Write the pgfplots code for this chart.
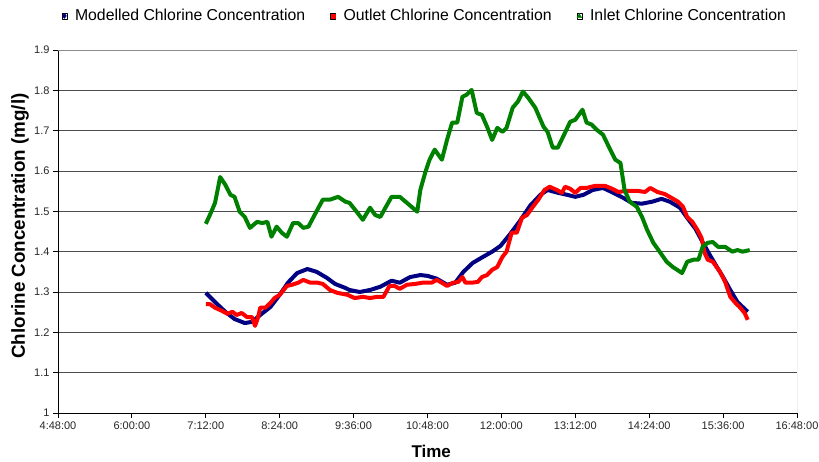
\documentclass[border=0pt]{standalone}
\usepackage{pgfplots}
\pgfplotsset{compat=1.18}
\usepackage{fontspec}
\setmainfont{Liberation Sans}
\definecolor{navyc}{RGB}{0,0,128}
\definecolor{redc}{RGB}{255,0,0}
\definecolor{greenc}{RGB}{0,128,0}
\begin{document}
\begin{tikzpicture}
\path[use as bounding box] (-58bp,-49bp) rectangle (761bp,413bp);
\begin{axis}[
  at={(0,0)}, anchor=south west,
  scale only axis, width=739bp, height=363bp,
  xmin=288, xmax=1008, ymin=1, ymax=1.9,
  xtick={288,360,432,504,576,648,720,792,864,936,1008},
  xticklabels={4:48:00,6:00:00,7:12:00,8:24:00,9:36:00,10:48:00,12:00:00,13:12:00,14:24:00,15:36:00,16:48:00},
  ytick={1,1.1,1.2,1.3,1.4,1.5,1.6,1.7,1.8,1.9},
  /pgf/number format/assume math mode=true,
  ticklabel style={font=\fontsize{11bp}{13bp}\selectfont, text=black!85},
  axis x line*=bottom, axis y line*=left,
  axis line style={black, line width=0.9bp},
  tick align=outside, major tick length=5bp,
  tick style={black, line width=0.8bp},
  ymajorgrids, grid style={black!70, line width=0.8bp},
  xlabel={Time}, ylabel={Chlorine Concentration (mg/l)},
  xlabel style={font=\fontsize{17bp}{20bp}\selectfont\bfseries, at={(axis description cs:0.505,-0.107)}, anchor=center},
  ylabel style={font=\fontsize{18.8bp}{21bp}\selectfont\bfseries, at={(axis description cs:-0.0514,0.515)}, anchor=center},
  legend style={draw=none, fill=none, legend columns=3,
    at={(0.495,1.094)}, anchor=center,
    font=\fontsize{15.8bp}{18bp}\selectfont,
    nodes={inner sep=0bp},
    /tikz/every odd column/.append style={column sep=8bp},
    /tikz/every even column/.append style={column sep=25bp}},
  legend cell align=left,
  line join=round,
]
\draw[black!45, line width=0.8bp] (rel axis cs:0,1) -- (rel axis cs:1,1) -- (rel axis cs:1,0);
\addlegendimage{legend image code/.code={\path (0bp,-3bp) rectangle (5bp,3bp); \fill[navyc] (2.5bp,2.6bp) -- (4.6bp,0bp) -- (2.5bp,-2.6bp) -- (0.4bp,0bp) -- cycle;}}
\addlegendentry{Modelled Chlorine Concentration}
\addlegendimage{legend image code/.code={\path (0bp,-3bp) rectangle (5bp,3bp); \fill[redc] (0.6bp,-1.9bp) rectangle (4.4bp,1.9bp);}}
\addlegendentry{Outlet Chlorine Concentration}
\addlegendimage{legend image code/.code={\path (0bp,-3bp) rectangle (5bp,3bp); \fill[greenc] (2.5bp,2.4bp) -- (4.8bp,-1.8bp) -- (0.2bp,-1.8bp) -- cycle;}}
\addlegendentry{Inlet Chlorine Concentration}
% Modelled
\addplot[navyc, line width=4bp, no marks, forget plot] coordinates {
(432,1.298)(441,1.275)(451,1.251)(460,1.233)(470,1.223)(477,1.226)(485,1.243)
(495,1.263)(504,1.293)(512,1.323)(521,1.347)(531,1.357)(540,1.350)(550,1.335)
(558,1.320)(568,1.310)(572,1.305)(582,1.300)(592,1.305)(602,1.313)(613,1.328)
(621,1.323)(631,1.337)(641,1.342)(648,1.340)(657,1.333)(667,1.318)(675,1.323)
(683,1.350)(692,1.372)(702,1.387)(711,1.400)(719,1.414)(728,1.442)(738,1.476)
(748,1.514)(758,1.541)(765,1.553)(775,1.546)(784,1.541)(792,1.536)(800,1.541)
(809,1.553)(819,1.558)(829,1.546)(839,1.533)(847,1.521)(857,1.519)(867,1.524)
(876,1.531)(884,1.524)(894,1.509)(901,1.484)(909,1.457)(916,1.424)(923,1.392)
(930,1.362)(936,1.337)(943,1.305)(950,1.275)(960,1.251)
};
% Outlet
\addplot[redc, line width=4bp, no marks, forget plot] coordinates {
(432,1.270)(436,1.270)(441,1.261)(448,1.253)(453,1.246)(458,1.251)(462,1.243)
(467,1.248)(472,1.238)(477,1.238)(480,1.216)(483,1.238)(485,1.261)(490,1.261)
(495,1.273)(499,1.285)(504,1.293)(511,1.315)(516,1.318)(522,1.323)(527,1.330)
(534,1.323)(541,1.323)(546,1.320)(553,1.305)(560,1.298)(570,1.293)(577,1.285)
(585,1.288)(592,1.285)(599,1.288)(605,1.288)(611,1.315)(616,1.315)(621,1.308)
(628,1.318)(636,1.320)(643,1.323)(652,1.323)(657,1.330)(662,1.323)(667,1.315)
(673,1.323)(678,1.325)(682,1.337)(685,1.323)(691,1.323)(697,1.325)(701,1.337)
(706,1.342)(711,1.355)(716,1.362)(721,1.387)(725,1.400)(730,1.447)(735,1.447)
(740,1.484)(745,1.491)(750,1.509)(756,1.529)(762,1.553)(767,1.561)(774,1.553)
(779,1.546)(782,1.561)(787,1.556)(792,1.546)(797,1.558)(803,1.558)(811,1.563)
(821,1.563)(828,1.556)(834,1.548)(842,1.551)(852,1.551)(860,1.548)(865,1.558)
(872,1.548)(879,1.543)(886,1.533)(892,1.524)(897,1.511)(901,1.486)(906,1.474)
(911,1.454)(915,1.434)(918,1.397)(921,1.380)(926,1.375)(933,1.350)(938,1.325)
(943,1.288)(948,1.273)(952,1.263)(957,1.248)(960,1.231)
};
% Inlet
\addplot[greenc, line width=4bp, no marks, forget plot] coordinates {
(432,1.469)(436,1.491)(441,1.521)(446,1.585)(451,1.566)(456,1.541)(460,1.536)
(465,1.499)(470,1.486)(475,1.459)(482,1.474)(487,1.471)(492,1.474)(496,1.437)
(501,1.462)(506,1.447)(511,1.437)(517,1.471)(522,1.471)(527,1.459)(532,1.462)
(538,1.491)(546,1.529)(553,1.529)(561,1.536)(568,1.524)(572,1.521)(579,1.499)
(585,1.479)(592,1.509)(597,1.491)(602,1.486)(607,1.509)(613,1.536)(621,1.536)
(628,1.521)(638,1.499)(641,1.553)(646,1.598)(650,1.628)(655,1.653)(662,1.628)
(667,1.677)(672,1.720)(677,1.720)(682,1.784)(686,1.789)(691,1.801)(696,1.744)
(701,1.739)(706,1.710)(711,1.677)(716,1.707)(721,1.697)(725,1.707)(731,1.757)
(736,1.772)(741,1.797)(746,1.782)(753,1.757)(761,1.710)(765,1.697)(770,1.658)
(775,1.658)(782,1.695)(787,1.722)(792,1.727)(799,1.752)(803,1.720)(808,1.715)
(813,1.702)(819,1.690)(826,1.653)(831,1.628)(836,1.620)(840,1.553)(845,1.524)
(852,1.511)(857,1.486)(862,1.454)(868,1.422)(875,1.397)(881,1.375)(887,1.362)
(896,1.347)(901,1.375)(907,1.380)(912,1.380)(916,1.412)(921,1.422)(926,1.424)
(931,1.412)(938,1.412)(945,1.400)(950,1.404)(955,1.400)(962,1.404)
};
\end{axis}
\end{tikzpicture}
\end{document}
